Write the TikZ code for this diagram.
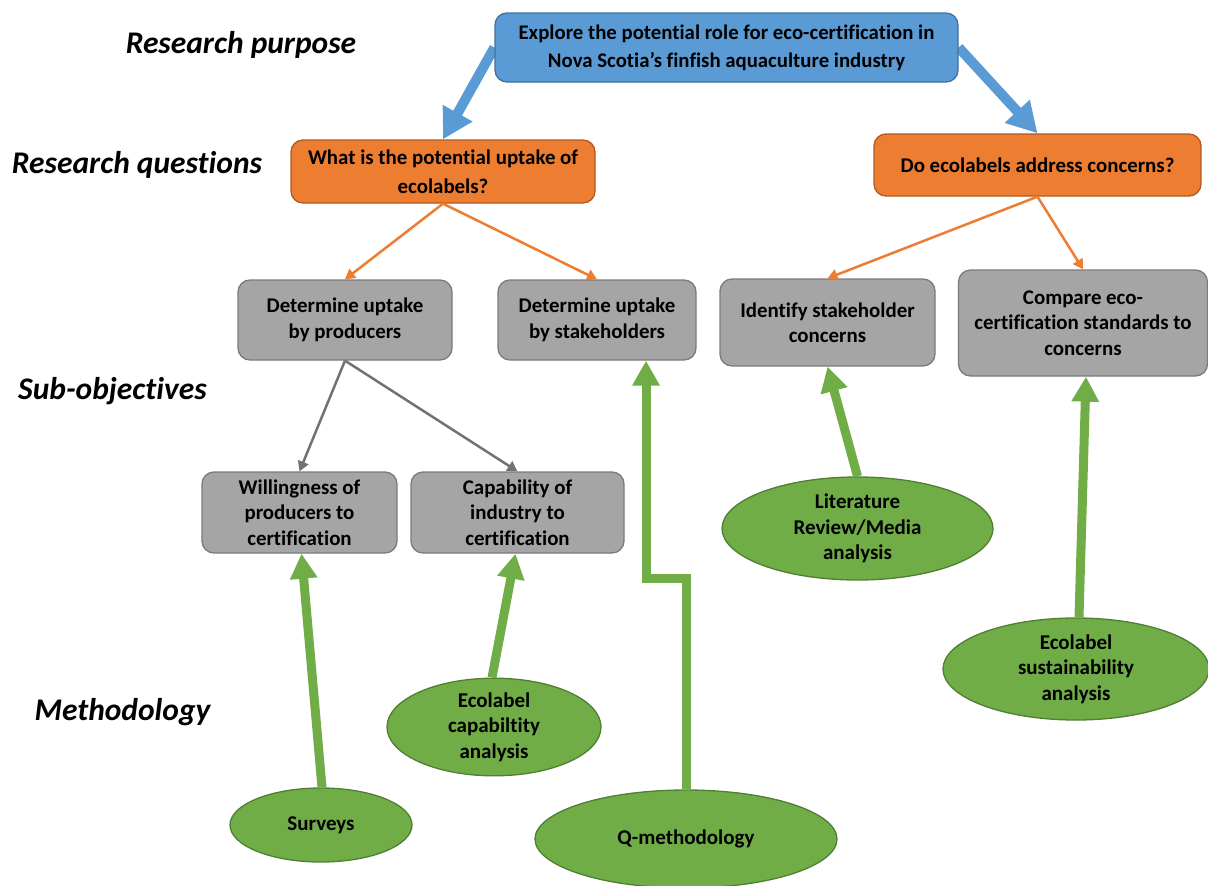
\documentclass[tikz,border=0pt]{standalone}
\usepackage{fontspec}
\setmainfont{Carlito}[Ligatures={TeX,NoCommon}]
\usetikzlibrary{arrows.meta,shapes.geometric,backgrounds}

\definecolor{purposefill}{HTML}{5B9BD5}
\definecolor{purposeline}{HTML}{41719C}
\definecolor{questfill}{HTML}{ED7D31}
\definecolor{questline}{HTML}{AE5A21}
\definecolor{subfill}{HTML}{A5A5A5}
\definecolor{subline}{HTML}{7B7B7B}
\definecolor{methfill}{HTML}{70AD47}
\definecolor{methline}{HTML}{507E32}
\definecolor{linkgray}{HTML}{767171}

\begin{document}
\begin{tikzpicture}[x=1pt,y=-1pt,
  basebox/.style={draw, rounded corners=12pt, line width=1.3pt, align=center,
    inner sep=0pt, font=\bfseries},
  purposebox/.style={basebox, fill=purposefill, draw=purposeline,
    font=\bfseries\fontsize{20.8}{28}\selectfont},
  questbox/.style={basebox, fill=questfill, draw=questline,
    font=\bfseries\fontsize{20.9}{29}\selectfont},
  subbox/.style={basebox, fill=subfill, draw=subline,
    font=\bfseries\fontsize{20.9}{25.5}\selectfont},
  methnode/.style={ellipse, draw=methline, fill=methfill, line width=1.3pt,
    inner sep=0pt, align=center, font=\bfseries\fontsize{21}{25.5}\selectfont},
  tierlabel/.style={font=\bfseries\itshape\fontsize{31.5}{36}\selectfont, inner sep=0pt},
  bluearrow/.style={draw=purposefill, line width=10pt,
    -{Triangle[width=32pt,length=30pt]}},
  orangearrow/.style={draw=questfill, line width=2.5pt,
    -{Triangle[width=11pt,length=10pt]}},
  grayarrow/.style={draw=linkgray, line width=2.5pt,
    -{Triangle[width=11pt,length=10pt]}},
  greenarrow/.style={draw=methfill, line width=9pt, line join=miter,
    -{Triangle[width=26pt,length=25pt]}}
]
\useasboundingbox (0,0) rectangle (1208,886);

% tier labels
\node[tierlabel] (lpurpose) at (241,45) {Research purpose};
\node[tierlabel] (lquestions) at (137,165) {Research questions};
\node[tierlabel] (lsubobj) at (112.5,391) {Sub-objectives};
\node[tierlabel] (lmethod) at (122.5,712) {Methodology};

% research purpose
\node[purposebox, minimum width=463pt, minimum height=69pt] (purpose) at (726.5,47.5)
  {Explore the potential role for eco-certification in\\Nova Scotia’s finfish aquaculture industry};

% research questions
\node[questbox, minimum width=304pt, minimum height=63pt] (q1) at (443,171.5)
  {What is the potential uptake of\\ecolabels?};
\node[questbox, minimum width=327pt, minimum height=62pt] (q2) at (1037.5,165)
  {Do ecolabels address concerns?};

% sub-objectives
\node[subbox, minimum width=214pt, minimum height=80pt] (prod) at (345,320)
  {Determine uptake\\by producers};
\node[subbox, minimum width=198pt, minimum height=80pt] (stake) at (597,320)
  {Determine uptake\\by stakeholders};
\node[subbox, minimum width=215pt, minimum height=87pt] (ident) at (827.5,322.5)
  {Identify stakeholder\\concerns};
\node[subbox, minimum width=249pt, minimum height=106pt] (comp) at (1083,323)
  {Compare eco-\\certification standards to\\concerns};
\node[subbox, minimum width=195pt, minimum height=81pt] (will) at (299.5,512.5)
  {Willingness of\\producers to\\certification};
\node[subbox, minimum width=213pt, minimum height=81pt] (capab) at (517.5,512.5)
  {Capability of\\industry to\\certification};

% methods
\node[methnode, minimum width=271pt, minimum height=103pt] (lit) at (857.5,528.5)
  {Literature\\Review/Media\\analysis};
\node[methnode, minimum width=266pt, minimum height=102pt] (sust) at (1076,669)
  {Ecolabel\\sustainability\\analysis};
\node[methnode, minimum width=214pt, minimum height=82pt] (capan) at (494,727)
  {Ecolabel\\capabiltity\\analysis};
\node[methnode, minimum width=182pt, minimum height=74pt] (surv) at (321,825)
  {Surveys};
\node[methnode, minimum width=302pt, minimum height=98pt] (qmeth) at (686,839)
  {Q-methodology};

\coordinate (qturn) at (646,578);

\begin{scope}[on background layer]
  \draw[bluearrow] (purpose.west) -- (q1.north);
  \draw[bluearrow] (purpose.east) -- (q2.north);
\end{scope}

\draw[orangearrow] (q1.south) -- (prod.north);
\draw[orangearrow] (q1.south) -- (stake.north);
\draw[orangearrow] (q2.south) -- (ident.north);
\draw[orangearrow] (q2.south) -- (comp.north);

\draw[grayarrow] (prod.south) -- (will.north);
\draw[grayarrow] (prod.south) -- (capab.north);

\draw[greenarrow] ([xshift=1pt]surv.north) -- ([xshift=2pt]will.south);
\draw[greenarrow] ([xshift=-2pt]capan.north) -- ([xshift=-2pt]capab.south);
\draw[greenarrow] (qmeth.north) |- (qturn) -- (qturn |- stake.south);
\draw[greenarrow] (lit.north) -- (ident.south);
\draw[greenarrow] ([xshift=3pt]sust.north) -- ([xshift=3pt]comp.south);
\end{tikzpicture}
\end{document}
